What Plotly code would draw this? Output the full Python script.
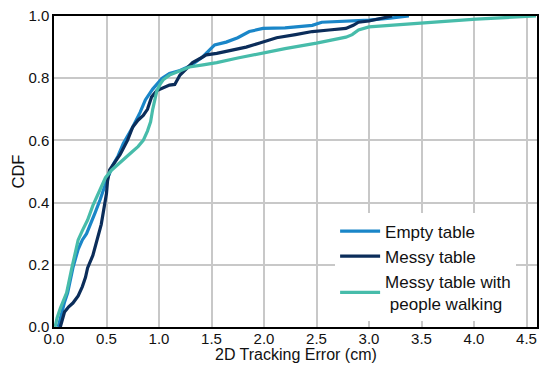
import plotly.graph_objects as go

# ---- data ----
empty_x = [0.04, 0.07, 0.10, 0.13, 0.18, 0.23, 0.27, 0.31, 0.35, 0.39, 0.44, 0.50, 0.56, 0.61,
           0.66, 0.75, 0.82, 0.87, 0.94, 1.03, 1.10, 1.20, 1.30, 1.42, 1.48, 1.53, 1.64, 1.75,
           1.86, 1.99, 2.20, 2.46, 2.55, 2.81, 3.00, 3.20, 3.38]
empty_y = [0.0, 0.045, 0.08, 0.11, 0.19, 0.25, 0.28, 0.30, 0.33, 0.366, 0.41, 0.47, 0.52, 0.55,
           0.59, 0.643, 0.69, 0.73, 0.765, 0.80, 0.815, 0.825, 0.84, 0.87, 0.89, 0.907, 0.916, 0.93,
           0.95, 0.96, 0.962, 0.97, 0.98, 0.984, 0.987, 0.993, 1.0]

messy_x = [0.06, 0.08, 0.10, 0.14, 0.18, 0.23, 0.27, 0.30, 0.32, 0.37, 0.41, 0.45, 0.48, 0.50,
           0.51, 0.53, 0.58, 0.63, 0.70, 0.75, 0.80, 0.85, 0.89, 0.93, 0.98, 1.04, 1.10, 1.15,
           1.20, 1.26, 1.32, 1.40, 1.45, 1.55, 1.70, 1.83, 1.96, 2.12, 2.30, 2.46, 2.62, 2.78,
           2.85, 2.90, 3.00, 3.10, 3.22]
messy_y = [0.0, 0.02, 0.048, 0.065, 0.077, 0.10, 0.13, 0.16, 0.19, 0.23, 0.28, 0.33, 0.39, 0.43,
           0.47, 0.505, 0.53, 0.555, 0.60, 0.643, 0.665, 0.68, 0.70, 0.74, 0.76, 0.77, 0.778, 0.78,
           0.81, 0.83, 0.85, 0.865, 0.875, 0.88, 0.89, 0.90, 0.913, 0.93, 0.94, 0.95, 0.955, 0.96,
           0.97, 0.98, 0.984, 0.992, 1.0]

walk_x = [0.01, 0.03, 0.06, 0.09, 0.12, 0.17, 0.20, 0.23, 0.27, 0.32, 0.37, 0.44, 0.49, 0.55,
          0.62, 0.69, 0.75, 0.80, 0.85, 0.89, 0.92, 0.94, 0.96, 0.98, 1.01, 1.04, 1.10, 1.17,
          1.29, 1.42, 1.55, 1.75, 1.96, 2.20, 2.50, 2.65, 2.78, 2.84, 2.90, 3.00, 3.20, 3.54,
          3.80, 4.02, 4.30, 4.59]
walk_y = [0.0, 0.03, 0.06, 0.085, 0.11, 0.19, 0.24, 0.28, 0.31, 0.344, 0.39, 0.44, 0.48, 0.505,
          0.525, 0.547, 0.565, 0.58, 0.60, 0.63, 0.66, 0.70, 0.73, 0.76, 0.78, 0.795, 0.81, 0.82,
          0.836, 0.843, 0.85, 0.865, 0.88, 0.895, 0.913, 0.922, 0.932, 0.94, 0.955, 0.965, 0.97,
          0.98, 0.985, 0.99, 0.995, 1.0]

series = [
    ("Empty table", empty_x, empty_y, "#1a86c8"),
    ("Messy table", messy_x, messy_y, "#0b2d5a"),
    ("Messy table with<br> people walking", walk_x, walk_y, "#47bcaa"),
]

x_ticks = [0.0, 0.5, 1.0, 1.5, 2.0, 2.5, 3.0, 3.5, 4.0, 4.5]
y_ticks = [0.0, 0.2, 0.4, 0.6, 0.8, 1.0]
x_title = "2D Tracking Error (cm)"
y_title = "CDF"

fig = go.Figure()
for name, xs, ys, color in series:
    fig.add_trace(go.Scatter(x=xs, y=ys, mode="lines", name=name,
                             line=dict(color=color, width=3.2)))

font = "Liberation Sans, Arial, sans-serif"
fig.update_layout(
    width=539, height=366,
    margin=dict(l=54, r=0, t=16, b=39),
    paper_bgcolor="white", plot_bgcolor="white",
    font=dict(family=font, color="#111111", size=15),
    showlegend=True,
    legend=dict(x=0.582, y=0.365, xanchor="left", yanchor="top",
                bgcolor="white", borderwidth=0,
                font=dict(family=font, size=17, color="#111111"),
                itemwidth=40, tracegroupgap=0),
)
fig.add_annotation(text=x_title, xref="paper", yref="paper", x=0.5, y=-0.087,
                   xanchor="center", yanchor="middle", showarrow=False,
                   font=dict(family=font, size=16, color="#111111"))
fig.update_xaxes(range=[0, 4.6], tickvals=x_ticks, ticktext=[f"{v:.1f}" for v in x_ticks],
                 showgrid=True, gridcolor="#c8c8c8", gridwidth=1.5,
                 showline=True, linecolor="black", linewidth=1.5, mirror=True,
                 ticks="", ticklabelstandoff=-3,
                 tickfont=dict(size=15), zeroline=False)
fig.update_yaxes(range=[0, 1.0], tickvals=y_ticks, ticktext=[f"{v:.1f}" for v in y_ticks],
                 showgrid=True, gridcolor="#c8c8c8", gridwidth=1.5,
                 showline=True, linecolor="black", linewidth=1.5, mirror=True,
                 ticks="",
                 title=dict(text=y_title, font=dict(size=16.5), standoff=0),
                 tickfont=dict(size=15), zeroline=False)

fig.write_html("out.html")
